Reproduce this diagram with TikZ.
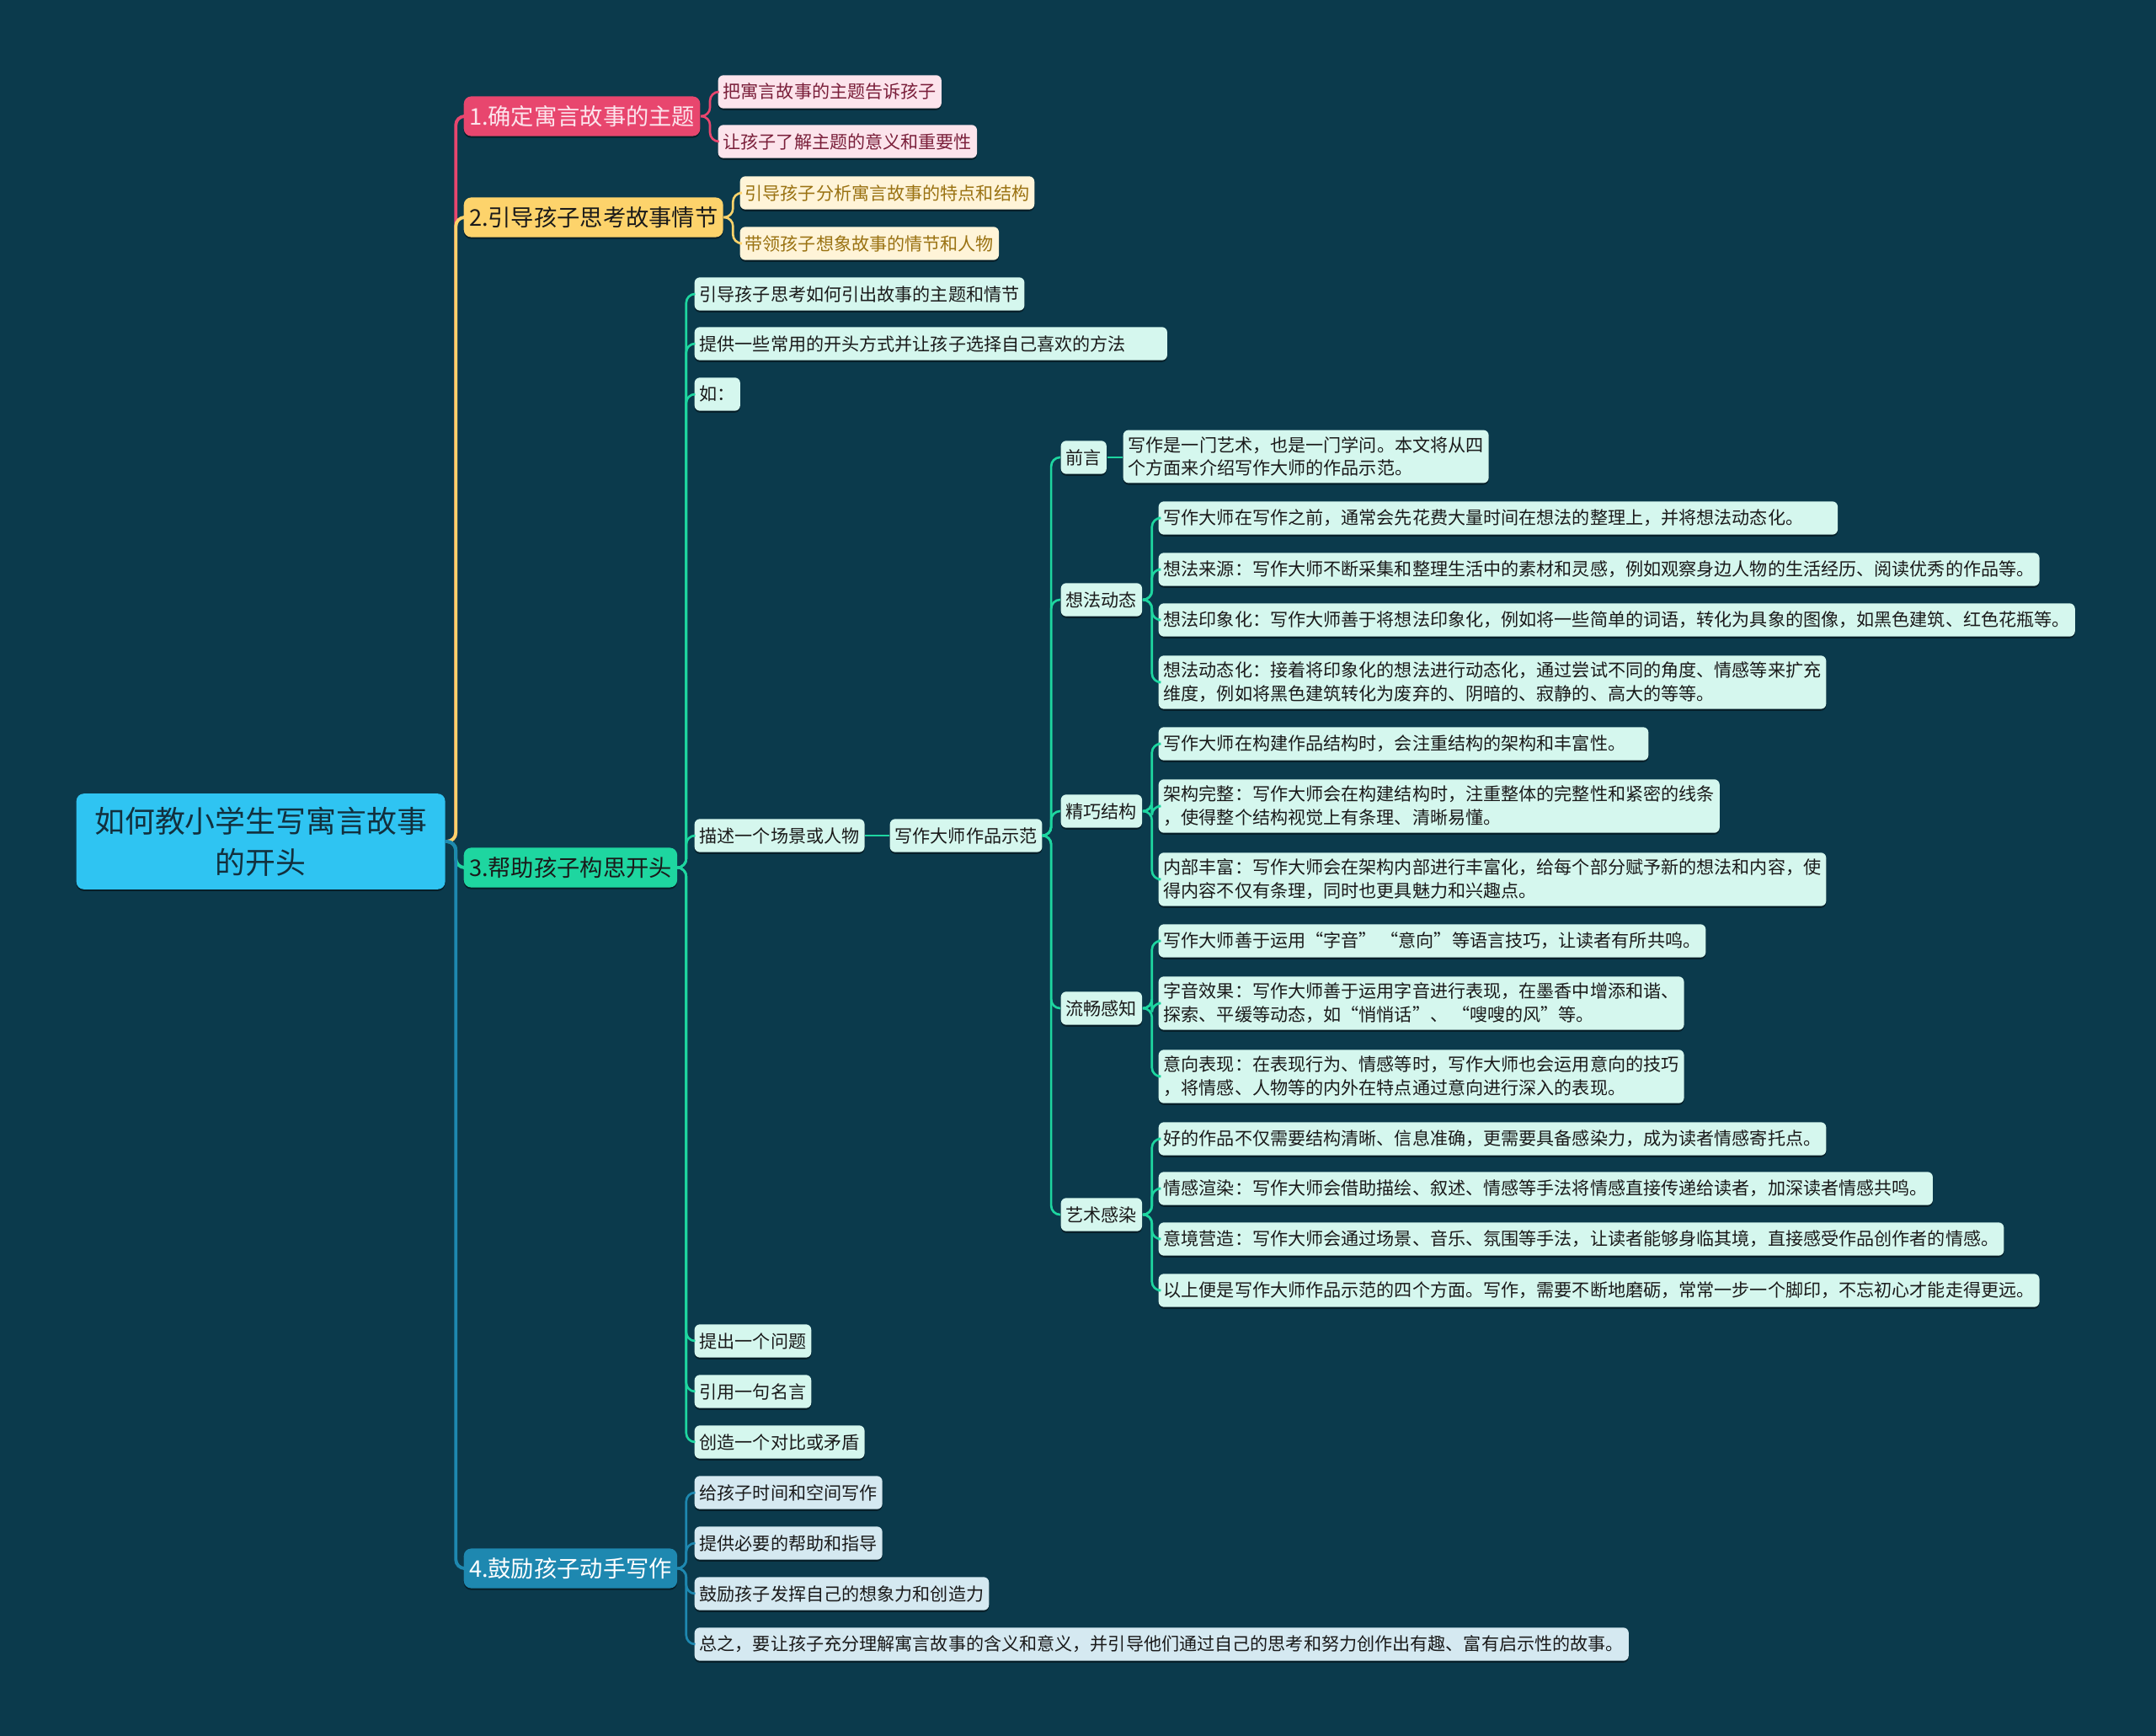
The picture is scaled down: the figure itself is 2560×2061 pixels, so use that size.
\documentclass[tikz,border=0pt]{standalone}
\usepackage{fontspec}
\newfontfamily\cjk{Noto Sans CJK SC}
\usetikzlibrary{shadows}
\definecolor{bg}{HTML}{0B3A4C}
\definecolor{rootc}{HTML}{2FC4F2}
\definecolor{roott}{HTML}{12303E}
\definecolor{pinkc}{HTML}{E8466E}
\definecolor{pinkl}{HTML}{FCE4EC}
\definecolor{pinkt}{HTML}{7A1F3A}
\definecolor{yelc}{HTML}{FDD36B}
\definecolor{yell}{HTML}{FFF4D8}
\definecolor{yelt}{HTML}{9A7212}
\definecolor{grnc}{HTML}{1ED6A0}
\definecolor{grnl}{HTML}{D5F7EE}
\definecolor{bluc}{HTML}{1E88B0}
\definecolor{blul}{HTML}{D5E9F1}
\definecolor{ink}{HTML}{1A1A1A}

\begin{document}
\begin{tikzpicture}[
            x=0.01cm, y=-0.01cm,
            box/.style={rectangle, rounded corners=1.8pt, anchor=west, align=left, text=ink,
                font=\cjk\fontsize{6}{7.9}\selectfont, inner xsep=1.7pt, inner ysep=2.2pt, minimum height=11.2pt,
                drop shadow={shadow xshift=0pt, shadow yshift=-0.6pt, opacity=0.45, fill=black}},
            topic/.style={box, rounded corners=2.5pt, font=\cjk\fontsize{7.75}{9.5}\selectfont,
                inner xsep=1.8pt, minimum height=13.4pt},
            rootbox/.style={box, rounded corners=2.5pt, align=center, text=roott, fill=rootc,
                font=\cjk\fontsize{10.2}{13.9}\selectfont, minimum width=124.5pt, minimum height=32.3pt},
            pleaf/.style={box, fill=pinkl, text=pinkt},
            yleaf/.style={box, fill=yell, text=yelt},
            gleaf/.style={box, fill=grnl},
            bleaf/.style={box, fill=blul},
            link/.style={rounded corners=3pt, line width=0.75pt},
            trunk/.style={rounded corners=3pt, line width=1.1pt}
        ]
            \fill[bg] (0,0) rectangle (2560,2061);
            \useasboundingbox (0,0) rectangle (2560,2061);

            \node[rootbox] (root) at (90,999) {如何教小学生写寓言故事\\的开头};

            \node[topic, fill=pinkc, text=pinkl] (t1) at (550,138) {1.确定寓言故事的主题};
            \node[topic, fill=yelc] (t2) at (550,258) {2.引导孩子思考故事情节};
            \node[topic, fill=grnc] (t3) at (550,1030) {3.帮助孩子构思开头};
            \node[topic, fill=bluc, text=white] (t4) at (550,1862) {4.鼓励孩子动手写作};

            \node[pleaf] (a1) at (852,109) {把寓言故事的主题告诉孩子};
            \node[pleaf] (a2) at (852,168) {让孩子了解主题的意义和重要性};
            \node[yleaf] (b1) at (878,229) {引导孩子分析寓言故事的特点和结构};
            \node[yleaf] (b2) at (878,289) {带领孩子想象故事的情节和人物};

            \node[gleaf] (c1) at (824,349) {引导孩子思考如何引出故事的主题和情节};
            \node[gleaf, text width=156.2pt] (c2) at (824,408) {提供一些常用的开头方式并让孩子选择自己喜欢的方法};
            \node[gleaf] (c3) at (824,468) {如：};
            \node[gleaf] (c4) at (824,992) {描述一个场景或人物};
            \node[gleaf] (c5) at (824,1592) {提出一个问题};
            \node[gleaf] (c6) at (824,1652) {引用一句名言};
            \node[gleaf] (c7) at (824,1712) {创造一个对比或矛盾};

            \node[gleaf] (demo) at (1056,992) {写作大师作品示范};
            \node[gleaf] (e1) at (1259,543) {前言};
            \node[gleaf] (e2) at (1259,712) {想法动态};
            \node[gleaf] (e3) at (1259,963) {精巧结构};
            \node[gleaf] (e4) at (1259,1197) {流畅感知};
            \node[gleaf] (e5) at (1259,1442) {艺术感染};

            \node[gleaf] (f0) at (1333,542) {写作是一门艺术，也是一门学问。本文将从四\\个方面来介绍写作大师的作品示范。};

            \node[gleaf, text width=225.9pt] (f1) at (1375,615) {写作大师在写作之前，通常会先花费大量时间在想法的整理上，并将想法动态化。};
            \node[gleaf] (f2) at (1375,676) {想法来源：写作大师不断采集和整理生活中的素材和灵感，例如观察身边人物的生活经历、阅读优秀的作品等。};
            \node[gleaf] (f3) at (1375,736) {想法印象化：写作大师善于将想法印象化，例如将一些简单的词语，转化为具象的图像，如黑色建筑、红色花瓶等。};
            \node[gleaf] (f4) at (1375,810) {想法动态化：接着将印象化的想法进行动态化，通过尝试不同的角度、情感等来扩充\\维度，例如将黑色建筑转化为废弃的、阴暗的、寂静的、高大的等等。};

            \node[gleaf, text width=162pt] (g1) at (1375,883) {写作大师在构建作品结构时，会注重结构的架构和丰富性。};
            \node[gleaf] (g2) at (1375,957) {架构完整：写作大师会在构建结构时，注重整体的完整性和紧密的线条\\，使得整个结构视觉上有条理、清晰易懂。};
            \node[gleaf] (g3) at (1375,1044) {内部丰富：写作大师会在架构内部进行丰富化，给每个部分赋予新的想法和内容，使\\得内容不仅有条理，同时也更具魅力和兴趣点。};

            \node[gleaf] (h1) at (1375,1117) {写作大师善于运用“字音” “意向”等语言技巧，让读者有所共鸣。};
            \node[gleaf] (h2) at (1375,1191) {字音效果：写作大师善于运用字音进行表现，在墨香中增添和谐、\\探索、平缓等动态，如“悄悄话”、 “嗖嗖的风”等。};
            \node[gleaf] (h3) at (1375,1278) {意向表现：在表现行为、情感等时，写作大师也会运用意向的技巧\\，将情感、人物等的内外在特点通过意向进行深入的表现。};

            \node[gleaf] (k1) at (1375,1352) {好的作品不仅需要结构清晰、信息准确，更需要具备感染力，成为读者情感寄托点。};
            \node[gleaf] (k2) at (1375,1411) {情感渲染：写作大师会借助描绘、叙述、情感等手法将情感直接传递给读者，加深读者情感共鸣。};
            \node[gleaf] (k3) at (1375,1471) {意境营造：写作大师会通过场景、音乐、氛围等手法，让读者能够身临其境，直接感受作品创作者的情感。};
            \node[gleaf] (k4) at (1375,1532) {以上便是写作大师作品示范的四个方面。写作，需要不断地磨砺，常常一步一个脚印，不忘初心才能走得更远。};

            \node[bleaf] (d1) at (824,1772) {给孩子时间和空间写作};
            \node[bleaf] (d2) at (824,1832) {提供必要的帮助和指导};
            \node[bleaf] (d3) at (824,1892) {鼓励孩子发挥自己的想象力和创造力};
            \node[bleaf] (d4) at (824,1952) {总之，要让孩子充分理解寓言故事的含义和意义，并引导他们通过自己的思考和努力创作出有趣、富有启示性的故事。};

            % root to topics
            \draw[trunk, pinkc] (root.east) -- ++(12,0) |- (t1.west);
            \draw[trunk, yelc] (root.east) -- ++(12,0) |- (t2.west);
            \draw[trunk, grnc] (root.east) -- ++(12,0) |- (t3.west);
            \draw[trunk, bluc] (root.east) -- ++(12,0) |- (t4.west);

            % topic 1 and 2
            \draw[link, pinkc] (t1.east) -- ++(11,0) |- (a1.west);
            \draw[link, pinkc] (t1.east) -- ++(11,0) |- (a2.west);
            \draw[link, yelc] (t2.east) -- ++(11,0) |- (b1.west);
            \draw[link, yelc] (t2.east) -- ++(11,0) |- (b2.west);

            % topic 3
            \draw[link, grnc] (t3.east) -- ++(10,0) |- (c1.west);
            \draw[link, grnc] (t3.east) -- ++(10,0) |- (c2.west);
            \draw[link, grnc] (t3.east) -- ++(10,0) |- (c3.west);
            \draw[link, grnc] (t3.east) -- ++(10,0) |- (c4.west);
            \draw[link, grnc] (t3.east) -- ++(10,0) |- (c5.west);
            \draw[link, grnc] (t3.east) -- ++(10,0) |- (c6.west);
            \draw[link, grnc] (t3.east) -- ++(10,0) |- (c7.west);
            \draw[link, grnc] (c4.east) -- (demo.west);

            \draw[link, grnc] (demo.east) -- ++(10,0) |- (e1.west);
            \draw[link, grnc] (demo.east) -- ++(10,0) |- (e2.west);
            \draw[link, grnc] (demo.east) -- ++(10,0) |- (e3.west);
            \draw[link, grnc] (demo.east) -- ++(10,0) |- (e4.west);
            \draw[link, grnc] (demo.east) -- ++(10,0) |- (e5.west);
            \draw[link, grnc] (e1.east) -- (f0.west |- e1.east);

            \draw[link, grnc] (e2.east) -- ++(11,0) |- (f1.west);
            \draw[link, grnc] (e2.east) -- ++(11,0) |- (f2.west);
            \draw[link, grnc] (e2.east) -- ++(11,0) |- (f3.west);
            \draw[link, grnc] (e2.east) -- ++(11,0) |- (f4.west);

            \draw[link, grnc] (e3.east) -- ++(11,0) |- (g1.west);
            \draw[link, grnc] (e3.east) -- ++(11,0) |- (g2.west);
            \draw[link, grnc] (e3.east) -- ++(11,0) |- (g3.west);

            \draw[link, grnc] (e4.east) -- ++(11,0) |- (h1.west);
            \draw[link, grnc] (e4.east) -- ++(11,0) |- (h2.west);
            \draw[link, grnc] (e4.east) -- ++(11,0) |- (h3.west);

            \draw[link, grnc] (e5.east) -- ++(11,0) |- (k1.west);
            \draw[link, grnc] (e5.east) -- ++(11,0) |- (k2.west);
            \draw[link, grnc] (e5.east) -- ++(11,0) |- (k3.west);
            \draw[link, grnc] (e5.east) -- ++(11,0) |- (k4.west);

            % topic 4
            \draw[link, bluc] (t4.east) -- ++(10,0) |- (d1.west);
            \draw[link, bluc] (t4.east) -- ++(10,0) |- (d2.west);
            \draw[link, bluc] (t4.east) -- ++(10,0) |- (d3.west);
            \draw[link, bluc] (t4.east) -- ++(10,0) |- (d4.west);
        \end{tikzpicture}
\end{document}
